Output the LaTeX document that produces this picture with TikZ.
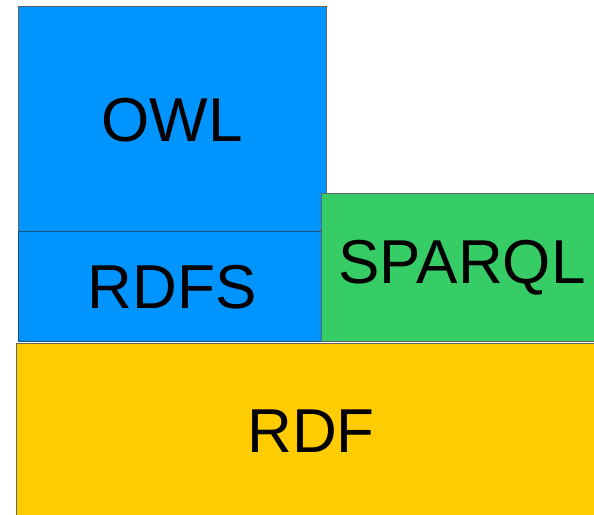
\documentclass[tikz,border=0pt]{standalone}
\usepackage{fontspec}
\setmainfont{Liberation Sans}
\definecolor{owlblue}{RGB}{0,148,255}
\definecolor{sparqlgreen}{RGB}{54,204,102}
\definecolor{rdfyellow}{RGB}{255,204,0}
\definecolor{edgeblue}{RGB}{30,80,120}
\definecolor{edgegray}{RGB}{100,100,100}
\begin{document}
\begin{tikzpicture}[x=1pt,y=1pt,
  layer/.style={font=\fontsize{62}{62}\selectfont, text=black, line width=0.8pt}]
\useasboundingbox (0,0) rectangle (594,514);
% OWL
\path[fill=owlblue, draw=edgegray, line width=0.8pt] (18,283) rectangle (326,508);
\node[layer] (owl) at (172,394) {OWL};
% RDFS
\path[fill=owlblue, draw=edgeblue, line width=0.8pt] (18,173) rectangle (326,283);
\node[layer] (rdfs) at (172,227) {RDFS};
% SPARQL
\path[fill=sparqlgreen, draw=edgegray, line width=0.8pt] (321,173) rectangle (600,321);
\node[layer] (sparql) at (462,246) {SPARQL};
% RDF
\path[fill=rdfyellow, draw=edgegray, line width=0.8pt] (16,-5) rectangle (600,171);
\node[layer] (rdf) at (311,83) {RDF};
\end{tikzpicture}
\end{document}
